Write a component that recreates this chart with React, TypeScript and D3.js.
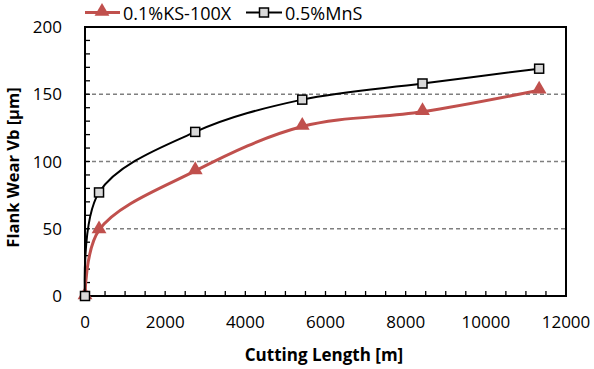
import * as d3 from "d3";
import React from "react";

const lengths = [0, 350, 2750, 5420, 8420, 11330];
const ksValues = [0, 49, 93, 126, 137, 153];
const mnsValues = [0, 77, 122, 146, 158, 169];
const xTickLabels = [0, 2000, 4000, 6000, 8000, 10000, 12000];
const yTickLabels = [0, 50, 100, 150, 200];

const RED = "#C0504D";
const FONT = "'Open Sans', 'Noto Sans', sans-serif";

export default function App() {
  const width = 594;
  const height = 369;
  const margin = { top: 27, right: 28, bottom: 73, left: 85 };

  const x = d3
    .scaleLinear()
    .domain([0, 12000])
    .range([margin.left, width - margin.right]);
  const y = d3
    .scaleLinear()
    .domain([0, 200])
    .range([height - margin.bottom, margin.top]);

  const line = d3
    .line<number>()
    .x((_, i) => x(lengths[i]))
    .y((d) => y(d))
    .curve(d3.curveCatmullRom.alpha(0.5));

  const minorX = d3.range(500, 12000, 500);
  const minorY = d3.range(10, 200, 10);
  const tri = d3.symbol(d3.symbolTriangle, 95)() ?? "";

  return (
    <svg
      width={width}
      height={height}
      style={{ position: "absolute", left: 0, top: 0, background: "#fff" }}
      fontFamily={FONT}
    >
      {/* gridlines */}
      {[50, 100, 150].map((v) => (
        <line
          key={v}
          x1={x(0)}
          x2={x(12000)}
          y1={y(v)}
          y2={y(v)}
          stroke="#7f7f7f"
          strokeWidth={1.3}
          strokeDasharray="4,3"
        />
      ))}
      {/* frame */}
      <rect
        x={x(0)}
        y={y(200)}
        width={x(12000) - x(0)}
        height={y(0) - y(200)}
        fill="none"
        stroke="#000"
        strokeWidth={2}
      />
      {/* inner ticks */}
      {minorX.map((v) => (
        <line key={"mx" + v} x1={x(v)} x2={x(v)} y1={y(0)} y2={y(0) - 5} stroke="#000" strokeWidth={1.3} />
      ))}
      {minorY.map((v) => (
        <line key={"my" + v} x1={x(0)} x2={x(0) + 5} y1={y(v)} y2={y(v)} stroke="#000" strokeWidth={1.3} />
      ))}
      {/* tick labels */}
      {xTickLabels.map((v) => (
        <text key={"xl" + v} x={x(v)} y={328} textAnchor="middle" fontSize={17} fill="#000">
          {v}
        </text>
      ))}
      {yTickLabels.map((v) => (
        <text key={"yl" + v} x={62} y={y(v) + 6} textAnchor="end" fontSize={17} fill="#000">
          {v}
        </text>
      ))}
      {/* axis titles */}
      <text x={324} y={361} textAnchor="middle" fontSize={17} fontWeight="bold" fill="#000">
        Cutting Length [m]
      </text>
      <text
        transform={`translate(19,${(y(0) + y(200)) / 2 + 6}) rotate(-90)`}
        textAnchor="middle"
        fontSize={16.5}
        fontWeight="bold"
        fill="#000"
      >
        Flank Wear Vb [µm]
      </text>
      {/* series */}
      <path d={line(ksValues) ?? ""} fill="none" stroke={RED} strokeWidth={3} />
      {ksValues.map((v, i) => (
        <path key={"t" + i} d={tri} transform={`translate(${x(lengths[i])},${y(v) - 1})`} fill={RED} />
      ))}
      <path d={line(mnsValues) ?? ""} fill="none" stroke="#000" strokeWidth={2} />
      {mnsValues.map((v, i) => (
        <rect
          key={"s" + i}
          x={x(lengths[i]) - 4.5}
          y={y(v) - 4.5}
          width={9}
          height={9}
          fill="#d9d9d9"
          stroke="#000"
          strokeWidth={1.5}
        />
      ))}
      {/* legend */}
      <line x1={85} x2={120} y1={12.5} y2={12.5} stroke={RED} strokeWidth={3} />
      <path d={tri} transform="translate(102,11.5)" fill={RED} />
      <text x={123} y={19.5} fontSize={18} fill="#000">
        0.1%KS-100X
      </text>
      <line x1={246} x2={282} y1={12.5} y2={12.5} stroke="#000" strokeWidth={2} />
      <rect x={259.5} y={8} width={9} height={9} fill="#d9d9d9" stroke="#000" strokeWidth={1.5} />
      <text x={285} y={19.5} fontSize={18} fill="#000">
        0.5%MnS
      </text>
    </svg>
  );
}
